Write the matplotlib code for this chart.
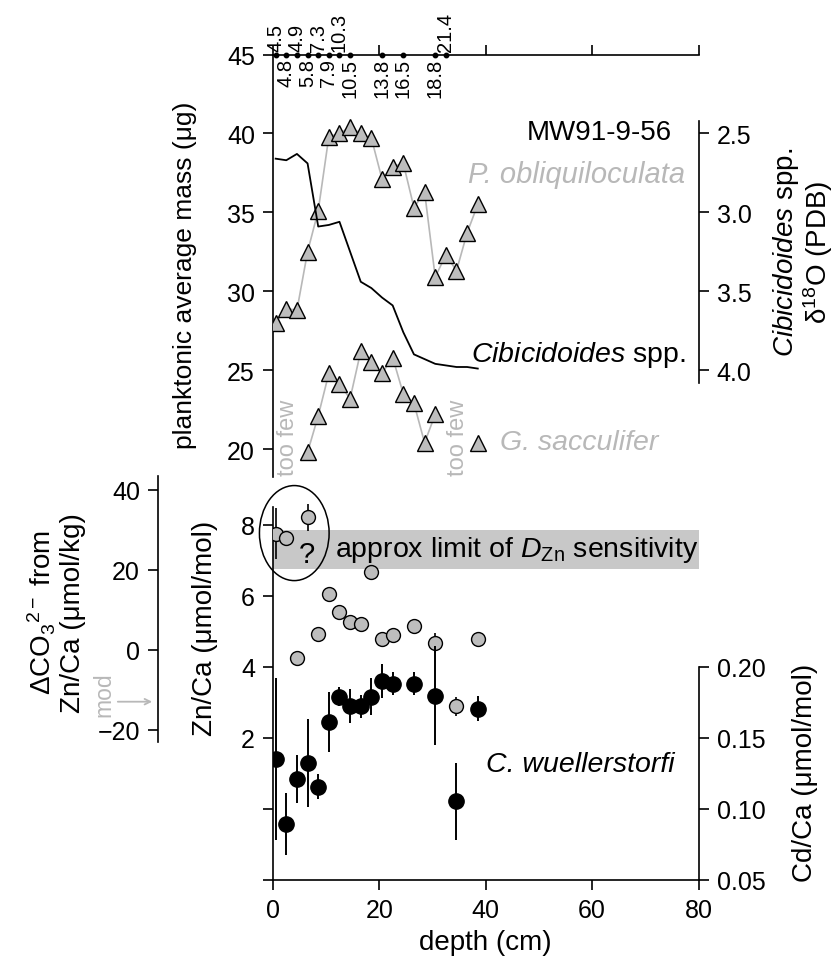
import numpy as np
import matplotlib
matplotlib.use('Agg')
import matplotlib.pyplot as plt
from matplotlib.patches import Ellipse

plt.rcParams['font.family'] = ['Liberation Sans', 'DejaVu Sans']
plt.rcParams['mathtext.fontset'] = 'custom'
plt.rcParams['mathtext.rm'] = 'Liberation Sans'
plt.rcParams['mathtext.it'] = 'Liberation Sans:italic'
plt.rcParams['mathtext.bf'] = 'Liberation Sans:bold'

# ---- data ----
# age control points (top axis): depth (cm) and age (kyr)
age_depth = [0.5, 2.5, 4.5, 6.5, 8.5, 10.5, 12.5, 14.5, 20.5, 24.5, 30.5, 32.5]
age_label = ['4.5', '4.8', '4.9', '5.8', '7.3', '7.9', '10.3', '10.5', '13.8', '16.5', '18.8', '21.4']
age_above = [True, False, True, False, True, False, True, False, False, False, False, True]

# P. obliquiloculata mean mass (ug)
pob_depth = [0.5, 2.5, 4.5, 6.5, 8.5, 10.5, 12.5, 14.5, 16.5, 18.5,
             20.5, 22.5, 24.5, 26.5, 28.5, 30.5, 32.5, 34.5, 36.5, 38.5]
pob_mass = [28.0, 28.9, 28.8, 32.5, 35.1, 39.8, 40.0, 40.4, 40.0, 39.7,
            37.1, 37.9, 38.1, 35.3, 36.3, 30.9, 32.3, 31.3, 33.7, 35.5]

# G. sacculifer mean mass (ug), connected run plus one isolated sample
gsac_depth = [6.5, 8.5, 10.5, 12.5, 14.5, 16.5, 18.5, 20.5, 22.5, 24.5, 26.5, 28.5, 30.5]
gsac_mass = [19.8, 22.1, 24.8, 24.1, 23.2, 26.2, 25.5, 24.8, 25.8, 23.5, 22.9, 20.4, 22.2]
gsac_extra_depth = [38.5]
gsac_extra_mass = [20.4]

# Cibicidoides spp. d18O (permil PDB)
cib_depth = [0.5, 2.5, 4.5, 6.5, 8.5, 10.5, 12.5, 14.5, 16.5, 18.5,
             20.5, 22.5, 24.5, 26.5, 28.5, 30.5, 32.5, 34.5, 36.5, 38.5]
cib_d18o = [2.66, 2.67, 2.63, 2.69, 3.09, 3.08, 3.06, 3.25, 3.44, 3.48,
            3.54, 3.59, 3.76, 3.90, 3.93, 3.96, 3.97, 3.98, 3.98, 3.99]

# C. wuellerstorfi Zn/Ca (umol/mol)
zn_depth = [0.5, 2.5, 4.5, 6.5, 8.5, 10.5, 12.5, 14.5, 16.5, 18.5,
            20.5, 22.5, 26.5, 30.5, 34.5, 38.5]
zn_ca = [7.75, 7.62, 4.26, 8.22, 4.92, 6.05, 5.55, 5.25, 5.20, 6.68,
         4.78, 4.89, 5.16, 4.67, 2.88, 4.78]
zn_err = [0.72, 0.2, 0.0, 0.38, 0.0, 0.2, 0.1, 0.1, 0.1, 0.0,
          0.1, 0.12, 0.1, 0.28, 0.28, 0.0]

# C. wuellerstorfi Cd/Ca (umol/mol)
cd_depth = [0.5, 2.5, 4.5, 6.5, 8.5, 10.5, 12.5, 14.5, 16.5, 18.5,
            20.5, 22.5, 26.5, 30.5, 34.5, 38.5]
cd_ca = [0.135, 0.089, 0.121, 0.132, 0.1155, 0.161, 0.179, 0.1725, 0.172, 0.179,
         0.190, 0.188, 0.188, 0.1795, 0.105, 0.1705]
cd_err = [0.057, 0.022, 0.017, 0.031, 0.009, 0.021, 0.007, 0.012, 0.008, 0.013,
          0.012, 0.008, 0.008, 0.035, 0.027, 0.009]

# sensitivity band in Zn/Ca
band_lo, band_hi = 6.76, 7.87

W, H = 836, 970
GREY_TXT = '#b8b8b8'
GREY_FILL = '#bdbdbd'
FS_TICK = 18
FS_LAB = 20
FS_NOTE = 20.5
TICK_KW = dict(direction='out', length=7.5, width=1.2, labelsize=FS_TICK, pad=5.5)


def px_axes(fig, l, t, r, b):
    return fig.add_axes([l / W, 1 - b / H, (r - l) / W, (b - t) / H])


fig = plt.figure(figsize=(W / 100, H / 100), dpi=100)

# ---------------- top panel ----------------
ax_t = px_axes(fig, 273, 55.5, 698.5, 478)
ax_t.set_xlim(0, 80)
ax_t.set_ylim(18.23, 45)
ax_t.patch.set_visible(False)
for s in ['bottom', 'right']:
    ax_t.spines[s].set_visible(False)
ax_t.spines['left'].set_bounds(18.23, 45)
ax_t.xaxis.tick_top()
ax_t.set_xticks([0, 20, 40, 60, 80])
ax_t.set_xticklabels([])
ax_t.set_yticks([20, 25, 30, 35, 40, 45])
ax_t.tick_params(axis='both', **TICK_KW)
for s in ax_t.spines.values():
    s.set_linewidth(1.2)

ax_t.plot(pob_depth, pob_mass, color='#b8b8b8', lw=1.2, zorder=2)
ax_t.plot(pob_depth, pob_mass, ls='none', marker='^', ms=11, mfc=GREY_FILL, mec='k', mew=1.0, zorder=3)
ax_t.plot(gsac_depth, gsac_mass, color='#b8b8b8', lw=1.2, zorder=2)
ax_t.plot(gsac_depth + gsac_extra_depth, gsac_mass + gsac_extra_mass, ls='none', marker='^', ms=11,
          mfc=GREY_FILL, mec='k', mew=1.0, zorder=3)

# age control points on the top axis
ax_t.plot(age_depth, [45] * len(age_depth), ls='none', marker='o', ms=3.2, color='k', clip_on=False, zorder=5)
for d, lab, up in zip(age_depth, age_label, age_above):
    if up:
        ax_t.annotate(lab, (d, 45), xytext=(0, 2.5), textcoords='offset points', rotation=90,
                      ha='center', va='bottom', fontsize=14.5, annotation_clip=False)
    else:
        ax_t.annotate(lab, (d, 45), xytext=(0, -2.5), textcoords='offset points', rotation=90,
                      ha='center', va='top', fontsize=14.5, annotation_clip=False)

ax_t.text(47.8, 40.1, 'MW91-9-56', fontsize=20, va='center', ha='left')
ax_t.text(36.6, 37.45, 'P. obliquiloculata', fontsize=21, style='italic', color=GREY_TXT, va='center')
ax_t.text(37.3, 26.0, r'$\it{Cibicidoides}$ spp.', fontsize=FS_NOTE, va='center')
ax_t.text(42.6, 20.45, 'G. sacculifer', fontsize=FS_NOTE, style='italic', color=GREY_TXT, va='center')
ax_t.text(2.8, 20.8, 'too few', fontsize=17, rotation=90, color=GREY_TXT, ha='center', va='center')
ax_t.text(34.7, 20.8, 'too few', fontsize=17, rotation=90, color=GREY_TXT, ha='center', va='center')

ax_t.set_ylabel('planktonic average mass (\u03bcg)', fontsize=19)
ax_t.yaxis.set_label_coords(-0.207, 0.48)
ax_t.yaxis.label.set(va='center', ha='center')

# d18O on right, inverted
ax_o = ax_t.twinx()
ax_o.set_ylim(2.5 + (40 - 18.23) * 0.1, 2.0)
for s in ['left', 'top', 'bottom']:
    ax_o.spines[s].set_visible(False)
ax_o.spines['right'].set_bounds(2.42, 4.08)
ax_o.spines['right'].set_linewidth(1.2)
ax_o.set_yticks([2.5, 3.0, 3.5, 4.0])
ax_o.set_yticklabels(['2.5', '3.0', '3.5', '4.0'])
ax_o.tick_params(axis='y', **TICK_KW)
ax_o.plot(cib_depth, cib_d18o, color='k', lw=1.3, zorder=4)
ax_o.set_ylabel(r'$\it{Cibicidoides}$ spp.' + '\n' + '\u03b4$^{18}$O (PDB)', fontsize=FS_LAB, linespacing=1.0)
ax_o.yaxis.set_label_coords(1.2456, 0.533)
ax_o.yaxis.label.set(va='center', ha='center')

# ---------------- bottom panel ----------------
ax_b = px_axes(fig, 273, 477, 698.5, 880.5)
ax_b.set_xlim(0, 80)
ax_b.set_ylim(-2, 9.38)
ax_b.patch.set_visible(False)
for s in ['top', 'right']:
    ax_b.spines[s].set_visible(False)
ax_b.spines['left'].set_bounds(-2, 8.5)
for s in ax_b.spines.values():
    s.set_linewidth(1.2)
ax_b.set_xticks([0, 20, 40, 60, 80])
ax_b.set_yticks([-2, 0, 2, 4, 6, 8])
ax_b.set_yticklabels(['', '', '2', '4', '6', '8'])
ax_b.tick_params(axis='both', **TICK_KW)
ax_b.set_xlabel('depth (cm)', fontsize=FS_LAB)
ax_b.xaxis.set_label_coords(0.5, -0.155)
ax_b.xaxis.label.set(va='center')
ax_b.set_ylabel('Zn/Ca (\u03bcmol/mol)', fontsize=FS_LAB)
ax_b.yaxis.set_label_coords(-0.16, 0.626)
ax_b.yaxis.label.set(va='center', ha='center')

ax_b.axhspan(band_lo, band_hi, color='#c8c8c8', lw=0, zorder=0)
ax_b.text(11.6, 7.32, r'approx limit of $D_{\rm Zn}$ sensitivity', fontsize=FS_NOTE, va='center', zorder=2)
ax_b.text(6.3, 7.18, '?', fontsize=21, ha='center', va='center', zorder=2)
ax_b.add_patch(Ellipse((4.0, 7.77), 13.1, 2.68, fill=False, ec='k', lw=1.1, clip_on=False, zorder=3))

ax_b.errorbar(zn_depth, zn_ca, yerr=zn_err, fmt='o', ms=10, mfc=GREY_FILL, mec='k', mew=1.0,
              ecolor='k', elinewidth=1.2, capsize=0, zorder=4)

# Cd/Ca on right
ax_c = ax_b.twinx()
ax_c.set_ylim(0.05, 0.05 + 11.38 * 0.025)
for s in ['left', 'top', 'bottom']:
    ax_c.spines[s].set_visible(False)
ax_c.spines['right'].set_bounds(0.05, 0.20)
ax_c.spines['right'].set_linewidth(1.2)
ax_c.set_yticks([0.05, 0.10, 0.15, 0.20])
ax_c.set_yticklabels(['0.05', '0.10', '0.15', '0.20'])
ax_c.tick_params(axis='y', **TICK_KW)
ax_c.errorbar(cd_depth, cd_ca, yerr=cd_err, fmt='o', ms=11, mfc='k', mec='k',
              ecolor='k', elinewidth=1.4, capsize=0, zorder=5)
ax_c.text(75.5, 0.05 + (1.26 + 2) * 0.025, 'C. wuellerstorfi', fontsize=FS_NOTE, style='italic',
          ha='right', va='center')
ax_c.set_ylabel('Cd/Ca (\u03bcmol/mol)', fontsize=FS_LAB)
ax_c.yaxis.set_label_coords(1.25, 0.266)
ax_c.yaxis.label.set(va='center', ha='center')

# Delta CO3 scale on far left
ax_d = ax_b.twinx()
ax_d.set_ylim(-(880.5 - 650.7) / 4, (650.7 - 477) / 4)
for s in ['right', 'top', 'bottom']:
    ax_d.spines[s].set_visible(False)
ax_d.spines['left'].set_visible(True)
ax_d.spines['left'].set_position(('axes', (158 - 273) / 425.5))
ax_d.spines['left'].set_bounds(-23, 43.4)
ax_d.spines['left'].set_linewidth(1.2)
ax_d.yaxis.set_ticks_position('left')
ax_d.yaxis.set_label_position('left')
ax_d.set_yticks([-20, 0, 20, 40])
ax_d.tick_params(axis='y', **TICK_KW)
ax_d.set_ylabel('\u0394CO$_3$$^{2-}$ from' + '\n' + 'Zn/Ca (\u03bcmol/kg)', fontsize=FS_LAB, linespacing=1.1)
ax_d.yaxis.set_label_coords(-0.51, 0.663)
ax_d.yaxis.label.set(va='center', ha='center')

# modern value arrow
ax_d.annotate('', xy=(-22.2, -13), xytext=(-29.7, -13),
              arrowprops=dict(arrowstyle='->', color=GREY_TXT, lw=1.3), annotation_clip=False)
ax_d.text(-31.8, -11.0, 'mod', fontsize=16.5, rotation=90, color=GREY_TXT, ha='center', va='center', clip_on=False)

fig.savefig('out.png', dpi=100)
